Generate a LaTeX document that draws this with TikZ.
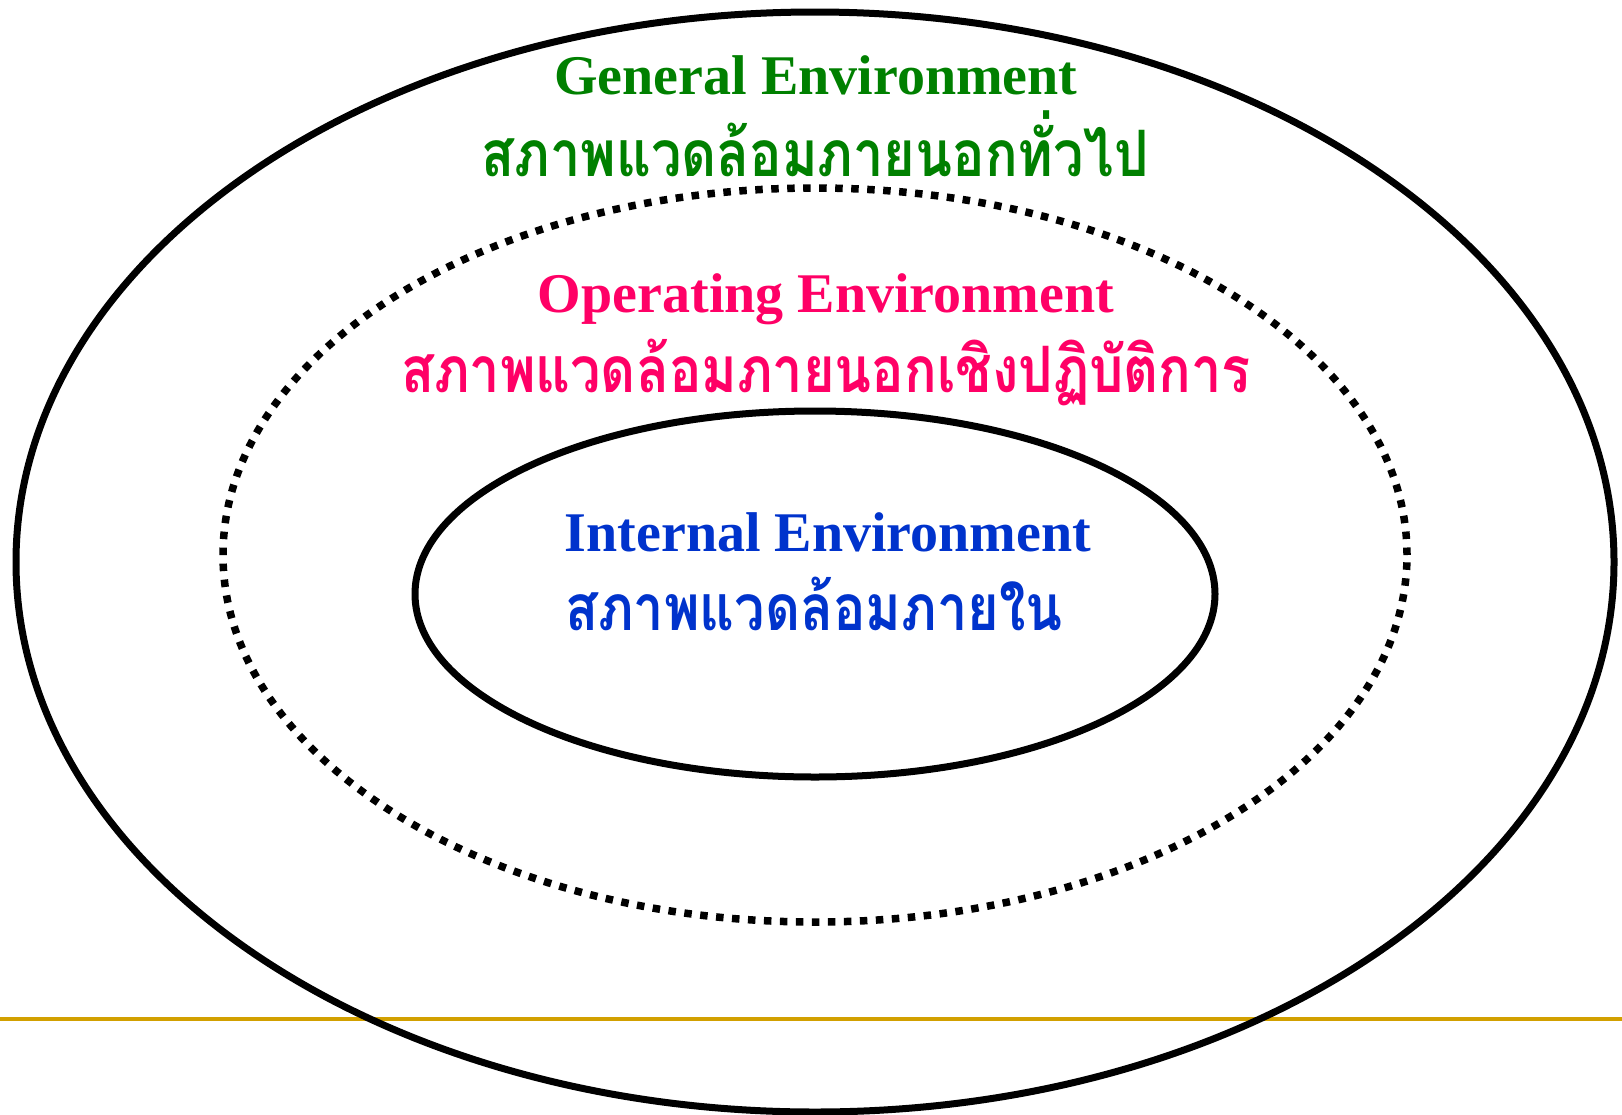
\documentclass[tikz,border=0pt]{standalone}
\usepackage{fontspec}
\setmainfont{Liberation Serif}
\newfontfamily\thaifont[Script=Thai,FakeStretch=0.845]{Loma}
\definecolor{gengreen}{RGB}{0,128,0}
\definecolor{oppink}{RGB}{255,0,102}
\definecolor{intblue}{RGB}{0,51,204}
\definecolor{goldline}{RGB}{210,160,0}
\begin{document}
\begin{tikzpicture}[x=1pt,y=-1pt,
  entext/.style={font=\fontsize{56}{60}\selectfont\bfseries, inner sep=0pt, anchor=base},
  thtext/.style={font=\fontsize{64}{68}\selectfont\thaifont\bfseries, inner sep=0pt, anchor=base},
  ring/.style={draw=black, line width=7pt},
  dotring/.style={draw=black, line width=7.5pt, dash pattern=on 7.5pt off 8.5pt}]
\useasboundingbox (0,0) rectangle (1622,1114);
\clip (0,0) rectangle (1622,1114);
\coordinate (gl) at (0,1019);
\coordinate (gr) at (1622,1019);
\draw[goldline, line width=4pt] (gl) -- (gr);
\draw[ring] (815,562) ellipse [x radius=799pt, y radius=550pt];
\draw[dotring] (815,555) ellipse [x radius=592pt, y radius=367pt];
\draw[ring] (815,594) ellipse [x radius=400pt, y radius=183pt];
\node[entext, text=gengreen] (genen) at (816,94) {General Environment};
\node[thtext, text=gengreen] (genth) at (815,176) {สภาพแวดล้อมภายนอกทั่วไป};
\node[entext, text=oppink] (open) at (826,312) {Operating Environment};
\node[thtext, text=oppink] (opth) at (826,392) {สภาพแวดล้อมภายนอกเชิงปฏิบัติการ};
\node[entext, text=intblue] (inten) at (828,551) {Internal Environment};
\node[thtext, text=intblue, anchor=base west] (intth) at (565,630) {สภาพแวดล้อมภายใน};
\end{tikzpicture}
\end{document}
